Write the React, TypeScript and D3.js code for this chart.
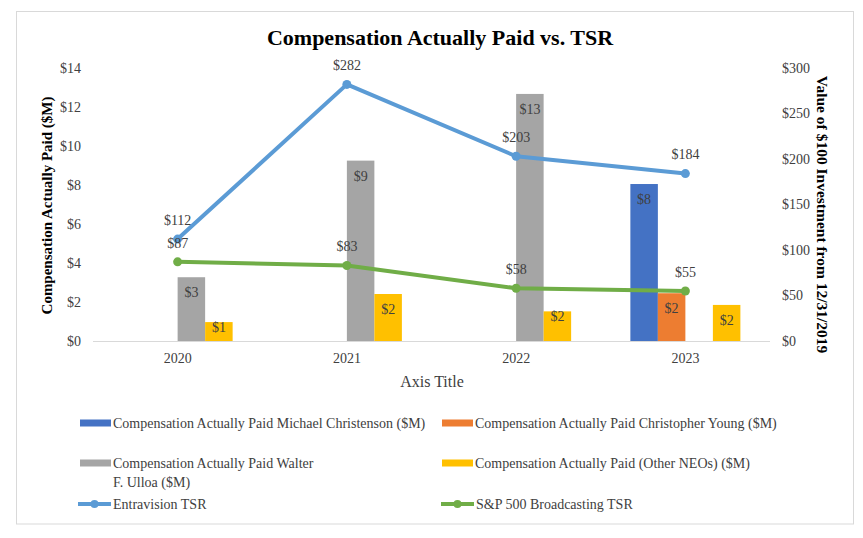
import React from "react";
import * as d3 from "d3";

const years = ["2020", "2021", "2022", "2023"];
const christenson: (number | null)[] = [null, null, null, 8.05];
const young: (number | null)[] = [null, null, null, 2.45];
const ulloa: (number | null)[] = [3.27, 9.25, 12.67, null];
const otherNeos: (number | null)[] = [0.97, 2.41, 1.52, 1.85];
const entravisionTsr = [112, 282, 203, 184];
const spTsr = [87, 83, 58, 55];
const leftTicks = [0, 2, 4, 6, 8, 10, 12, 14];
const rightTicks = [0, 50, 100, 150, 200, 250, 300];

const barSeries = [
  { name: "Compensation Actually Paid Michael Christenson ($M)", values: christenson, color: "#4472C4" },
  { name: "Compensation Actually Paid Christopher Young ($M)", values: young, color: "#ED7D31" },
  { name: "Compensation Actually Paid Walter F. Ulloa ($M)", values: ulloa, color: "#A5A5A5" },
  { name: "Compensation Actually Paid (Other NEOs) ($M)", values: otherNeos, color: "#FFC000" },
];
const lineSeries = [
  { name: "Entravision TSR", values: entravisionTsr, color: "#5B9BD5" },
  { name: "S&P 500 Broadcasting TSR", values: spTsr, color: "#70AD47" },
];

const W = 863;
const H = 538;
const FONT = "'Liberation Serif', 'Times New Roman', serif";

export default function App() {
  const plotL = 93, plotR = 770, plotT = 68, plotB = 341;
  const x = d3.scaleBand().domain(years).range([plotL, plotR]).padding(0);
  const yL = d3.scaleLinear().domain([0, 14]).range([plotB, plotT]);
  const yR = d3.scaleLinear().domain([0, 300]).range([plotB, plotT]);
  const barW = x.bandwidth() * 0.1625;
  const groupW = barW * barSeries.length;

  const lineGen = d3
    .line<number>()
    .x((_, i) => x(years[i])! + x.bandwidth() / 2)
    .y((d) => yR(d));

  return (
    <div style={{ position: "absolute", left: 0, top: 0 }}>
      <svg width={W} height={H} style={{ display: "block", background: "#fff" }} fontFamily={FONT}>
        <rect x={16.5} y={11.5} width={837} height={512.5} fill="#fff" stroke="#D9D9D9" strokeWidth={1} />
        <text x={440} y={45} textAnchor="middle" fontSize={22} fontWeight="bold" fill="#000">
          Compensation Actually Paid vs. TSR
        </text>

        {/* left ticks */}
        {leftTicks.map((t) => (
          <text key={"l" + t} x={81} y={yL(t)} dy="0.35em" textAnchor="end" fontSize={14} fill="#404040">
            {"$" + t}
          </text>
        ))}
        {rightTicks.map((t) => (
          <text key={"r" + t} x={782} y={yR(t)} dy="0.35em" textAnchor="start" fontSize={14} fill="#404040">
            {"$" + t}
          </text>
        ))}
        <text
          transform={`translate(47,${(plotT + plotB) / 2 + 1}) rotate(-90)`}
          textAnchor="middle"
          dy="0.35em"
          fontSize={15}
          fontWeight="bold"
          fill="#000"
        >
          Compensation Actually Paid ($M)
        </text>
        <text
          transform={`translate(822,${(plotT + plotB) / 2 + 10}) rotate(90)`}
          textAnchor="middle"
          dy="0.35em"
          fontSize={15.5}
          fontWeight="bold"
          fill="#000"
        >
          Value of $100 Investment from 12/31/2019
        </text>

        {/* bars */}
        {barSeries.map((s, si) =>
          s.values.map((v, i) => {
            if (v == null) return null;
            const bx = x(years[i])! + x.bandwidth() / 2 - groupW / 2 + si * barW;
            const top = yL(v);
            const h = plotB - top;
            const ly = h > 30 ? top + 15 : top + 5;
            return (
              <g key={s.name + i}>
                <rect x={bx} y={top} width={barW} height={h} fill={s.color} />
                <text x={bx + barW / 2} y={ly} dy="0.35em" textAnchor="middle" fontSize={14} fill="#404040">
                  {"$" + Math.round(v)}
                </text>
              </g>
            );
          })
        )}

        {/* x axis */}
        <line x1={plotL} x2={plotR} y1={plotB + 0.5} y2={plotB + 0.5} stroke="#D9D9D9" strokeWidth={1} />
        {years.map((yr) => (
          <text key={yr} x={x(yr)! + x.bandwidth() / 2} y={358} dy="0.35em" textAnchor="middle" fontSize={14} fill="#404040">
            {yr}
          </text>
        ))}
        <text x={432} y={381} dy="0.35em" textAnchor="middle" fontSize={16} fill="#404040">
          Axis Title
        </text>

        {/* lines */}
        {lineSeries.map((s) => (
          <g key={s.name}>
            <path d={lineGen(s.values)!} fill="none" stroke={s.color} strokeWidth={4} strokeLinejoin="round" />
            {s.values.map((v, i) => (
              <circle key={i} cx={x(years[i])! + x.bandwidth() / 2} cy={yR(v)} r={4.5} fill={s.color} />
            ))}
            {s.values.map((v, i) => (
              <text
                key={"t" + i}
                x={x(years[i])! + x.bandwidth() / 2}
                y={yR(v) - 19}
                dy="0.35em"
                textAnchor="middle"
                fontSize={14}
                fill="#404040"
              >
                {"$" + v}
              </text>
            ))}
          </g>
        ))}

        {/* legend */}
        {[
          { s: barSeries[0], col: 0, y: 423 },
          { s: barSeries[1], col: 1, y: 423 },
          { s: barSeries[2], col: 0, y: 463 },
          { s: barSeries[3], col: 1, y: 463 },
        ].map(({ s, col, y }) => {
          const sx = col === 0 ? 80 : 442;
          const lines =
            s.name === "Compensation Actually Paid Walter F. Ulloa ($M)"
              ? ["Compensation Actually Paid Walter", "F. Ulloa ($M)"]
              : [s.name];
          return (
            <g key={s.name}>
              <rect x={sx} y={y - 3.5} width={31} height={7} fill={s.color} />
              {lines.map((ln, k) => (
                <text key={k} x={sx + 33} y={y + k * 19} dy="0.35em" fontSize={14} fill="#404040">
                  {ln}
                </text>
              ))}
            </g>
          );
        })}
        {lineSeries.map((s, k) => {
          const sx = k === 0 ? 78 : 441;
          const y = 504;
          return (
            <g key={"lg" + s.name}>
              <line x1={sx} x2={sx + 33} y1={y} y2={y} stroke={s.color} strokeWidth={4} />
              <circle cx={sx + 16.5} cy={y} r={4} fill={s.color} />
              <text x={sx + 35} y={y} dy="0.35em" fontSize={14} fill="#404040">
                {s.name}
              </text>
            </g>
          );
        })}
      </svg>
    </div>
  );
}
